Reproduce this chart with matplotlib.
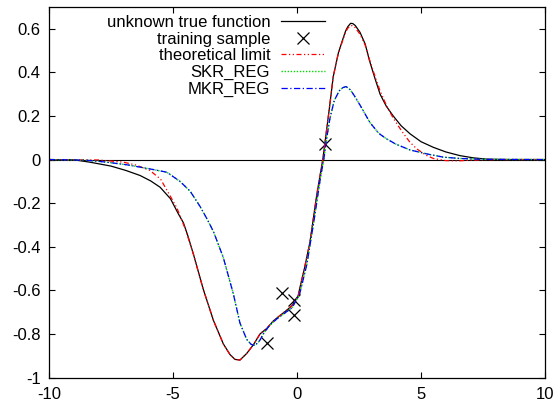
import matplotlib
matplotlib.use("Agg")
import matplotlib.pyplot as plt

plt.rcParams['font.family'] = ['Liberation Sans', 'DejaVu Sans']

# unknown true function
true_x = [-10, -9, -8.35, -7.5, -6.9, -6.33, -5.9, -5.52, -5.1, -4.78, -4.58, -4.4,
          -4.18, -3.78, -3.37, -2.97, -2.7, -2.5, -2.3, -2.03, -1.76, -1.49, -1.22,
          -0.95, -0.69, -0.4, -0.2, 0.05, 0.12, 0.3, 0.52, 0.8, 1.04, 1.13, 1.3,
          1.46, 1.67, 1.87, 1.96, 2.05, 2.16, 2.25, 2.35, 2.54, 2.75, 2.92, 3.15, 3.35, 3.6,
          3.88, 4.2, 4.56, 5.0, 5.5, 6.0, 6.57, 7.1, 7.65, 8.5, 10]
true_y = [0, -0.001, -0.012, -0.03, -0.05, -0.073, -0.098, -0.127, -0.18, -0.25, -0.29, -0.35,
          -0.433, -0.595, -0.738, -0.846, -0.895, -0.917, -0.92, -0.89, -0.85, -0.80, -0.775,
          -0.74, -0.716, -0.69, -0.67, -0.624, -0.586, -0.50, -0.38, -0.16, 0.0, 0.08, 0.23,
          0.38, 0.49, 0.56, 0.59, 0.61, 0.625, 0.624, 0.615, 0.584, 0.53, 0.455, 0.37, 0.30, 0.245,
          0.20, 0.155, 0.118, 0.082, 0.056, 0.035, 0.018, 0.008, 0.002, 0, 0]

# training samples
sample_x = [-1.2, -0.62, -0.11, -0.12, 1.13]
sample_y = [-0.84, -0.61, -0.645, -0.715, 0.07]

# theoretical limit
limit_x = [-10, -8.0, -7.0, -6.5, -5.93, -5.5, -5.25, -4.85, -4.5, -4.18, -3.78, -3.37,
           -2.97, -2.7, -2.5, -2.3, -2.03, -1.76, -1.49, -1.22, -0.95, -0.69, -0.4, -0.2,
           0.05, 0.12, 0.3, 0.52, 0.8, 1.04, 1.13, 1.3, 1.46, 1.67, 1.87, 1.96, 2.05, 2.15,
           2.25, 2.35, 2.54, 2.75, 2.92, 3.15, 3.35, 3.6, 3.88, 4.05, 4.29, 4.55, 4.83, 5.2,
           5.5, 6.0, 6.5, 7.0, 8.0, 10]
limit_y = [0, -0.002, -0.012, -0.025, -0.05, -0.09, -0.14, -0.22, -0.32, -0.433, -0.595, -0.738,
           -0.846, -0.895, -0.917, -0.92, -0.89, -0.85, -0.80, -0.775, -0.74, -0.716, -0.69, -0.67,
           -0.624, -0.586, -0.50, -0.38, -0.16, 0.0, 0.08, 0.23, 0.38, 0.49, 0.555, 0.585, 0.603, 0.615,
           0.614, 0.605, 0.575, 0.525, 0.46, 0.38, 0.315, 0.25, 0.19, 0.16, 0.12, 0.08, 0.049, 0.02,
           0.005, -0.005, -0.006, -0.003, 0, 0]

# MKR_REG and SKR_REG (the two curves overlap)
mkr_x = [-10, -8.5, -7.67, -6.8, -5.93, -5.25, -4.72, -4.31, -3.91, -3.64, -3.37, -2.97,
         -2.57, -2.3, -2.03, -1.85, -1.69, -1.5, -1.36, -1.1, -0.8, -0.5, -0.2, 0.1, 0.4,
         0.7, 0.95, 1.08, 1.2, 1.33, 1.5, 1.7, 1.85, 1.98, 2.15, 2.3, 2.54, 2.94, 3.3,
         3.61, 4.0, 4.56, 5.23, 5.9, 6.57, 7.5, 10]
mkr_y = [0, -0.003, -0.012, -0.025, -0.043, -0.058, -0.10, -0.145, -0.215, -0.27, -0.33, -0.45,
         -0.615, -0.75, -0.825, -0.848, -0.853, -0.83, -0.80, -0.76, -0.73, -0.705, -0.68, -0.62,
         -0.48, -0.27, -0.08, 0.0, 0.10, 0.19, 0.27, 0.315, 0.33, 0.335, 0.32, 0.295, 0.25,
         0.17, 0.12, 0.095, 0.07, 0.044, 0.026, 0.011, 0.005, 0.001, 0]
skr_x = mkr_x
skr_y = mkr_y

fig = plt.figure(figsize=(5.58, 4.05), dpi=100)
ax = fig.add_axes([49 / 558, 1 - 377.5 / 405, 496 / 558, 370.5 / 405])

ax.axhline(0, color='black', lw=0.8, zorder=1)
ax.plot(true_x, true_y, color='black', lw=0.9, label='unknown true function')
ax.plot(sample_x, sample_y, ls='none', marker='x', ms=9, mew=0.9, color='black',
        label='training sample')
ax.plot(limit_x, limit_y, color='red', lw=0.9, dashes=(4, 2, 1, 2, 1, 2),
        label='theoretical limit')
ax.plot(skr_x, skr_y, color='#00dd00', lw=1.0, dashes=(1, 1.2), label='SKR_REG')
ax.plot(mkr_x, mkr_y, color='blue', lw=0.9, dashes=(5, 2, 1, 2), label='MKR_REG')

ax.set_xlim(-10, 10)
ax.set_ylim(-1, 0.7)
ax.set_xticks([-10, -5, 0, 5, 10])
ax.set_yticks([-1, -0.8, -0.6, -0.4, -0.2, 0, 0.2, 0.4, 0.6])
ax.set_yticklabels(['-1', '-0.8', '-0.6', '-0.4', '-0.2', '0', '0.2', '0.4', '0.6'])
ax.set_xticklabels(['-10', '-5', '0', '5', '10'])
ax.tick_params(direction='in', length=4, width=0.8, top=True, right=True, labelsize=12)
ax.tick_params(axis='x', pad=7)
ax.tick_params(axis='y', pad=6)
for s in ax.spines.values():
    s.set_linewidth(0.9)

ax.legend(loc='upper right', bbox_to_anchor=(325 / 558, 1 - 15 / 405),
          bbox_transform=fig.transFigure, frameon=False, markerfirst=False,
          fontsize=12, borderpad=0, borderaxespad=0, handlelength=2.63,
          handletextpad=0.66, labelspacing=0.1)

fig.savefig('out.png', dpi=100)
